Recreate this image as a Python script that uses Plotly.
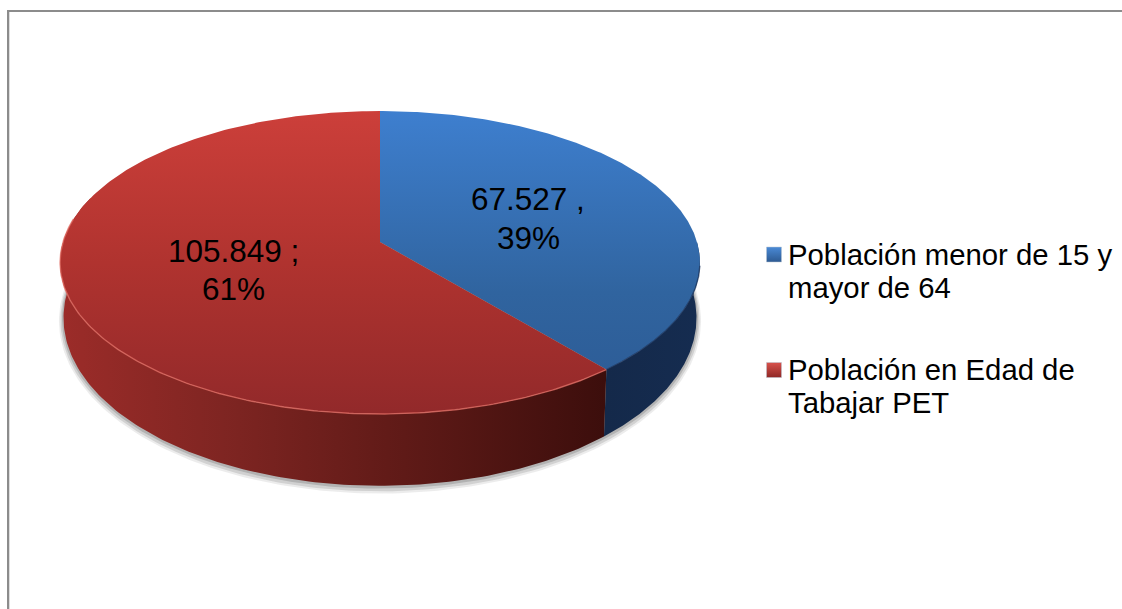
import numpy as np
import plotly.graph_objects as go

# ---- data ----
categories = ["Población menor de 15 y mayor de 64", "Población en Edad de Tabajar PET"]
values = [67527, 105849]
label_lines = [["67.527 ,", "39%"], ["105.849 ;", "61%"]]
legend_lines = [["Población menor de 15 y", "mayor de 64"], ["Población en Edad de", "Tabajar PET"]]

# ---- styling / layout ----
W, H = 1122, 609
FONT = "Liberation Sans, Arial, sans-serif"
CX = 380
TOP = dict(cy=242, a=148.7, b=317, p=0.1353)
BOT = dict(cy=295, a=165, b=313.6, p=0.1353)
top_scale = [[[0, "#3e7fcf"], [0.6, "#30649f"], [1, "#2c5a94"]],
             [[0, "#cc3f3a"], [0.5, "#b0332f"], [1, "#92292a"]]]


def proj(face, theta, grow=0.0, dy=0.0):
    """Project angles (clockwise from 12 o'clock) on a face of the perspective pie."""
    u, v = np.sin(theta), np.cos(theta)
    d = 1 + face["p"] * v
    return CX + (face["b"] + grow) * u / d, face["cy"] + dy - (face["a"] + grow) * v / d


shares = np.array(values, dtype=float) / sum(values)
edges = np.concatenate([[0], np.cumsum(shares)]) * 2 * np.pi

fig = go.Figure()


def poly(x, y, **kw):
    fig.add_trace(go.Scatter(x=x, y=y, mode="lines", fill="toself", line=dict(width=0),
                             hoverinfo="skip", showlegend=False, **kw))


# soft shadow below the side wall
all_t = np.linspace(0, 2 * np.pi, 361)
for grow, dy, alpha in [(4.5, 2.5, 0.10), (3, 2, 0.16), (1.5, 1, 0.22)]:
    sx, sy = proj(BOT, all_t, grow=grow, dy=dy)
    poly(sx, sy, fillcolor=f"rgba(70,70,70,{alpha})")

# side walls
side_ranges = [(np.pi / 2, edges[1]), (edges[1], 1.6 * np.pi)]
side_scales = [[[0, "#14294a"], [1, "#152c50"]],
               [[0, "#9c2c29"], [0.3, "#7f2522"], [0.6, "#621b18"], [1, "#3c0e0c"]]]
side_spans = [(606, 700), (59, 606)]
for (t0, t1), scale, (x0, x1) in zip(side_ranges, side_scales, side_spans):
    t = np.linspace(t0, t1, 160)
    xt, yt = proj(TOP, t)
    xb, yb = proj(BOT, t)
    poly(np.concatenate([xt, xb[::-1]]), np.concatenate([yt, yb[::-1]]),
         fillgradient=dict(type="horizontal", colorscale=scale, start=x0, stop=x1))

# top faces
for i in [0, 1]:
    t = np.linspace(edges[i], edges[i + 1], 240)
    x, y = proj(TOP, t)
    cx0, cy0 = CX, TOP["cy"]
    poly(np.concatenate([[cx0], x, [cx0]]), np.concatenate([[cy0], y, [cy0]]),
         fillgradient=dict(type="vertical", colorscale=top_scale[i], start=111, stop=414))

# bevel highlight along the front rim
rim = [(edges[1], 1.55 * np.pi, "rgba(226,110,100,0.75)"), (np.pi * 0.55, edges[1], "rgba(25,50,90,0.7)")]
for t0, t1, col in rim:
    t = np.linspace(t0, t1, 200)
    x, y = proj(TOP, t)
    fig.add_trace(go.Scatter(x=x, y=y, mode="lines", line=dict(color=col, width=1.4),
                             hoverinfo="skip", showlegend=False))

annotations = []


def text(x, y, s, size, anchor):
    annotations.append(dict(x=x, y=y, text=s, showarrow=False, xref="x", yref="y",
                            xanchor=anchor, yanchor="middle",
                            font=dict(family=FONT, size=size, color="#000000")))


# data labels
label_pos = [(528, [199, 238]), (233, [251, 289])]
for (lx, lys), lines in zip(label_pos, label_lines):
    for ly, s in zip(lys, lines):
        text(lx, ly, s, 31.5, "center")

# legend
legend_rows = [[254, 287], [369, 402]]
swatch_y = [254.5, 370]
swatch_cols = [("#4a8ad6", "#2d5a92"), ("#d8524c", "#8f2826")]
for rows, lines, sy, (c0, c1), name in zip(legend_rows, legend_lines, swatch_y, swatch_cols, categories):
    fig.add_trace(go.Scatter(x=[774], y=[sy], mode="markers", name=name, hoverinfo="name", showlegend=False,
                             marker=dict(symbol="square", size=15, color=c0,
                                         gradient=dict(type="vertical", color=c1),
                                         line=dict(color="#b8c4d0", width=0.5))))
    for ly, s in zip(rows, lines):
        text(786, ly, s, 29.3, "left")

frame = [
    dict(type="line", x0=8, x1=8, y0=10, y1=H, line=dict(color="#8c8c8c", width=2)),
    dict(type="line", x0=9.5, x1=9.5, y0=12, y1=H, line=dict(color="#dedede", width=1)),
    dict(type="line", x0=7, x1=W, y0=11, y1=11, line=dict(color="#8c8c8c", width=2)),
]

fig.update_layout(
    width=W, height=H, margin=dict(l=0, r=0, t=0, b=0),
    paper_bgcolor="white", plot_bgcolor="white",
    xaxis=dict(range=[0, W], visible=False, fixedrange=True),
    yaxis=dict(range=[H, 0], visible=False, fixedrange=True),
    annotations=annotations, shapes=frame, showlegend=False,
)
fig.write_html("out.html", config=dict(displayModeBar=False),
               post_script="document.body.style.margin='0';document.body.style.overflow='hidden';")
